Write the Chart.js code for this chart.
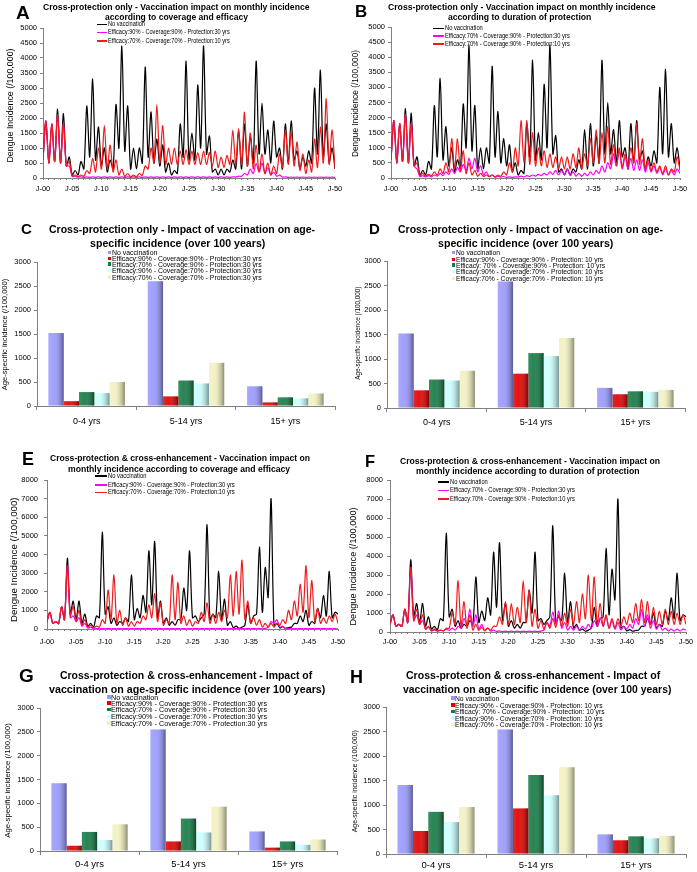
<!DOCTYPE html>
<html>
<head>
<meta charset="utf-8">
<script src="https://cdn.jsdelivr.net/npm/chart.js@4.4.1/dist/chart.umd.min.js"></script>
<style>
  body { margin: 0; background: #fff; }
  #page { position: relative; width: 697px; height: 872px; overflow: hidden; font-family: "Liberation Sans", Arial, sans-serif; color: #000; }
  #page canvas { position: absolute; }
  .txt { position: absolute; white-space: nowrap; transform-origin: 0 50%; }
  .sw { position: absolute; }
</style>
</head>
<body>
<div id="page"></div>
<script>
// monthly incidence, one value every half year from J-00 to J-50 (trough, peak, trough, ...)
const noVaccCP = [
  600,1900, 500,1800, 550,2300, 500,2150, 400,700,
  100,250, 100,550, 300,2400, 700,3300, 600,1700,
  400,1000, 200,600, 300,2450, 1000,4400, 900,2400,
  300,1000, 300,1000, 500,3700, 700,2200, 500,1300,
  400,1100, 200,500, 100,250, 150,1800, 700,3900,
  600,1500, 600,3100, 1000,4400, 800,1400, 200,300,
  100,300, 100,300, 200,600, 300,1600, 300,1800,
  400,1400, 500,3900, 800,2500, 800,1600, 500,1900,
  700,1000, 300,1800, 500,1900, 600,900, 300,700,
  400,900, 500,3000, 800,3600, 700,1800, 500,1000,
  300
];
const a90c90p30 = [
  600,1900, 500,1800, 550,2100, 500,1800, 400,400,
  50,60, 30,40, 20,40, 20,40, 20,40,
  20,40, 20,40, 20,40, 20,40, 20,40,
  20,40, 20,40, 20,40, 20,40, 20,40,
  20,40, 20,40, 20,40, 20,40, 20,40,
  20,40, 20,40, 20,40, 20,40, 20,40,
  20,40, 20,40, 20,40, 30,60, 60,150,
  100,300, 150,480, 200,500, 150,350, 100,200,
  60,100, 30,40, 20,30, 20,30, 20,30,
  20,30, 20,30, 20,30, 20,30, 20,30,
  20
];
const a70c70p10 = [
  600,1900, 500,1800, 550,2100, 500,1800, 400,550,
  60,100, 40,100, 60,250, 150,650, 200,1000,
  300,1750, 300,1100, 200,600, 100,300, 50,150,
  40,100, 40,150, 80,400, 300,1000, 500,2450,
  500,1750, 450,1000, 450,1000, 450,900, 450,950,
  450,900, 450,850, 450,900, 450,850, 400,900,
  350,700, 350,750, 450,1600, 450,1650, 450,2200,
  400,1500, 300,1100, 200,800, 150,500, 100,400,
  150,800, 350,1600, 450,1550, 400,1200, 250,800,
  150,600, 200,1300, 350,1700, 500,2650, 450,1600,
  300
];
const b70c90p30 = [
  600,1900, 500,1800, 550,2100, 500,1800, 400,300,
  50,80, 40,80, 40,100, 60,150, 80,200,
  120,300, 150,350, 200,450, 250,650, 300,650,
  200,400, 100,200, 50,100, 30,60, 30,50,
  20,40, 20,40, 30,60, 40,80, 50,100,
  60,120, 80,150, 100,200, 120,250, 100,250,
  120,300, 80,200, 60,150, 60,150, 80,200,
  100,250, 150,400, 200,500, 300,800, 400,900,
  300,700, 300,650, 250,600, 250,600, 200,500,
  200,400, 150,350, 100,300, 100,250, 100,300,
  150
];
const b70c90p10 = [
  600,1900, 500,1800, 550,2100, 500,1800, 400,500,
  80,150, 60,120, 80,200, 100,300, 150,500,
  200,1300, 300,1300, 250,900, 150,500, 100,250,
  60,150, 50,100, 40,100, 40,100, 60,200,
  100,500, 200,1000, 400,1900, 500,1900, 450,1500,
  400,1000, 400,900, 350,800, 350,700, 300,700,
  300,700, 300,800, 350,1000, 300,800, 400,1300,
  500,1600, 500,1500, 500,1700, 450,1100, 400,1000,
  350,800, 400,1000, 500,1800, 450,1300, 300,600,
  250,500, 200,400, 150,400, 100,300, 200,700,
  250
];
const noVaccCE = [
  400,900, 300,400, 300,1200, 500,3800, 800,1500,
  500,1500, 300,800, 150,300, 100,700, 600,5200,
  800,1200, 300,600, 200,400, 300,600, 400,2900,
  500,1100, 600,1800, 900,4200, 1300,4700, 600,1500,
  300,600, 200,400, 200,500, 500,2200, 1000,4200,
  600,700, 400,600, 800,5600, 500,800, 600,3100,
  500,1600, 200,400, 80,150, 40,100, 200,1300,
  300,700, 800,4400, 900,3300, 1700,7000, 200,300,
  60,120, 40,80, 100,300, 300,700, 400,1000,
  200,400, 300,1100, 600,1800, 700,3100, 600,900,
  800
];
const e90c90p30 = [
  400,900, 300,400, 300,1200, 500,3400, 600,700,
  400,600, 150,300, 50,100, 10,20, 10,20,
  10,20, 10,20, 10,20, 10,20, 10,20,
  10,20, 10,20, 10,20, 10,20, 10,20,
  10,20, 10,20, 10,20, 10,20, 10,20,
  10,20, 10,20, 10,20, 10,20, 10,20,
  10,20, 10,20, 10,20, 10,20, 10,20,
  10,20, 10,20, 10,30, 100,400, 300,500,
  100,150, 10,20, 10,20, 10,20, 10,20,
  10,20, 10,20, 10,20, 10,20, 10,20,
  10
];
const e70c70p10 = [
  400,900, 300,400, 300,1200, 500,3400, 700,1200,
  400,1000, 200,500, 100,200, 50,150, 100,500,
  300,2100, 500,2900, 300,1000, 200,600, 150,400,
  150,400, 300,700, 500,1300, 600,1900, 400,1400,
  200,500, 300,2900, 500,2500, 300,700, 200,500,
  150,400, 300,900, 400,1400, 300,800, 300,900,
  400,1000, 600,2900, 700,3100, 800,3700, 500,1500,
  300,600, 200,500, 100,300, 100,300, 100,300,
  200,500, 300,1000, 500,1500, 700,2400, 900,3400,
  600,2600, 400,1100, 300,600, 300,700, 400,800,
  300
];
const f70c90p30 = [
  400,900, 300,400, 300,1200, 500,3400, 600,900,
  400,600, 150,250, 60,100, 50,100, 60,150,
  80,200, 100,300, 200,700, 400,1200, 300,900,
  150,400, 80,200, 50,100, 30,60, 20,50,
  20,50, 20,50, 20,50, 20,50, 20,50,
  20,50, 100,500, 300,1050, 400,1100, 200,500,
  100,300, 100,300, 100,300, 150,400, 200,600,
  300,750, 300,800, 200,600, 150,500, 100,300,
  150,400, 200,700, 400,1200, 300,900, 200,600,
  150,400, 100,200, 60,150, 50,150, 50,150,
  100
];
const f70c90p10 = [
  400,900, 300,400, 300,1200, 500,3400, 600,1200,
  400,900, 150,300, 60,150, 40,100, 60,200,
  200,1000, 400,2700, 300,1600, 200,900, 100,400,
  80,250, 60,200, 100,300, 300,800, 400,1600,
  400,1500, 400,1300, 500,2700, 500,2200, 300,1200,
  200,600, 150,500, 200,700, 250,900, 300,1000,
  300,1200, 400,1600, 500,2000, 700,3000, 600,2900,
  400,1500, 300,900, 200,700, 200,700, 300,800,
  400,1000, 500,1500, 600,1700, 500,1600, 400,1300,
  400,1100, 400,1200, 400,1100, 400,1000, 400,900,
  400
];

// age-specific incidence over 100 years
const ageGroups = ['0-4 yrs', '5-14 yrs', '15+ yrs'];
const cNoVacc = [1520, 2600, 410];
const cE90C90 = [100, 200, 75];
const cE70C90 = [290, 530, 180];
const cE90C70 = [270, 470, 160];
const cE70C70 = [500, 900, 260];
const dNoVacc = [1520, 2580, 410];
const dE90C90 = [360, 700, 280];
const dE70C90 = [580, 1120, 340];
const dE90C70 = [560, 1060, 330];
const dE70C70 = [760, 1430, 370];
const gNoVacc = [1420, 2550, 410];
const gE90C90 = [110, 200, 70];
const gE70C90 = [400, 680, 200];
const gE90C70 = [230, 390, 130];
const gE70C70 = [560, 930, 240];
const hNoVacc = [1410, 2540, 400];
const hE90C90 = [470, 930, 280];
const hE70C90 = [860, 1610, 360];
const hE90C70 = [650, 1200, 320];
const hE70C70 = [960, 1770, 370];

const lineColors = ['#000000', '#FF00FF', '#EE1C1C'];
const barColors = ['#9999FF', '#E00000', '#157A45', '#CCFFFF', '#F2F0C0'];

const FONT = '"Liberation Sans", Arial, sans-serif';
Chart.defaults.font.family = FONT;
Chart.defaults.color = '#000';

const page = document.getElementById('page');

function addText(s, x, y, size, bold) {
  const d = document.createElement('div');
  d.className = 'txt';
  d.textContent = s;
  d.style.fontSize = size + 'px';
  d.style.lineHeight = size + 'px';
  d.style.left = x + 'px';
  d.style.top = (y - size / 2) + 'px';
  if (bold) d.style.fontWeight = 'bold';
  page.appendChild(d);
  return d;
}

function fitText(s, x0, x1, y, size, bold) {
  const d = addText(s, x0, y, size, bold);
  d.style.transform = 'scaleX(' + ((x1 - x0) / d.offsetWidth) + ')';
}

function vText(s, cx, cy, len, size) {
  const d = addText(s, 0, cy, size, false);
  const w = d.offsetWidth;
  d.style.left = (cx - w / 2) + 'px';
  d.style.transformOrigin = '50% 50%';
  d.style.transform = 'rotate(-90deg) scaleX(' + (len / w) + ')';
}

function legend(kind, x0, xText, ys, names, colors, textEnd, size) {
  const els = names.map((n, i) => {
    const s = document.createElement('div');
    s.className = 'sw';
    s.style.background = colors[i];
    if (kind === 'line') {
      s.style.left = x0 + 'px';
      s.style.width = (xText - x0 - 1) + 'px';
      s.style.top = (ys[i] - 0.75) + 'px';
      s.style.height = '1.5px';
    } else {
      s.style.left = x0 + 'px';
      s.style.width = '3.5px';
      s.style.top = (ys[i] - 1.75) + 'px';
      s.style.height = '3.5px';
    }
    page.appendChild(s);
    return addText(n, xText, ys[i], size, false);
  });
  const maxW = Math.max(...els.map(e => e.offsetWidth));
  const k = (textEnd - xText) / maxW;
  els.forEach(e => { e.style.transform = 'scaleX(' + k + ')'; });
}

function makeCanvas(r) {
  const c = document.createElement('canvas');
  c.width = r.w; c.height = r.h;
  c.style.left = r.x + 'px'; c.style.top = r.y + 'px';
  c.style.width = r.w + 'px'; c.style.height = r.h + 'px';
  page.appendChild(c);
  return c;
}

function axes(r, p, o) {
  const yW = p.l - r.x, xH = r.y + r.h - p.b;
  return {
    layout: { padding: { left: 0, top: p.t - r.y, right: r.x + r.w - p.r, bottom: 0 } },
    x: {
      grid: { drawOnChartArea: false, tickLength: o.xTick, color: '#808080' },
      border: { color: '#808080' },
      ticks: { padding: o.xPad, font: { size: o.xFont }, maxRotation: 0, autoSkip: false },
      afterFit: s => { s.height = xH; s.paddingLeft = 0; s.paddingRight = 0; }
    },
    y: {
      min: 0, max: o.yMax,
      grid: { drawOnChartArea: false, tickLength: 3, color: '#808080' },
      border: { color: '#808080' },
      ticks: { stepSize: o.yStep, padding: o.yPad, font: { size: o.yFont }, callback: v => String(v) },
      afterFit: s => { s.width = yW; s.paddingTop = 0; s.paddingBottom = 0; }
    }
  };
}

function lineChart(r, p, o, series) {
  const ax = axes(r, p, o);
  ax.x.type = 'linear';
  ax.x.min = 0; ax.x.max = 50;
  ax.x.ticks.stepSize = 1;
  ax.x.ticks.callback = v => (v % 5 === 0 ? 'J-' + String(v).padStart(2, '0') : '');
  new Chart(makeCanvas(r), {
    type: 'line',
    data: {
      datasets: series.map((vals, i) => ({
        data: vals.map((v, j) => ({ x: j / 2, y: v })),
        borderColor: lineColors[i],
        borderWidth: 1.2,
        order: 2 - i
      }))
    },
    options: {
      responsive: false, animation: false, devicePixelRatio: 1,
      layout: ax.layout,
      elements: { point: { radius: 0 }, line: { tension: 0.3, borderJoinStyle: 'round' } },
      plugins: { legend: { display: false }, tooltip: { enabled: false } },
      scales: { x: ax.x, y: ax.y }
    }
  });
}

const shade = {
  id: 'shade',
  afterDatasetsDraw(chart) {
    const ctx = chart.ctx;
    chart.data.datasets.forEach((ds, i) => {
      chart.getDatasetMeta(i).data.forEach(bar => {
        const b = bar.getProps(['x', 'y', 'base', 'width'], true);
        const l = b.x - b.width / 2;
        const g = ctx.createLinearGradient(l, 0, l + b.width, 0);
        g.addColorStop(0, 'rgba(255,255,255,0.15)');
        g.addColorStop(0.35, 'rgba(255,255,255,0.08)');
        g.addColorStop(1, 'rgba(0,0,0,0.42)');
        ctx.fillStyle = g;
        ctx.fillRect(l, b.y, b.width, b.base - b.y);
      });
    });
  }
};

function barChart(r, p, o, series) {
  const ax = axes(r, p, o);
  new Chart(makeCanvas(r), {
    type: 'bar',
    data: {
      labels: ageGroups,
      datasets: series.map((vals, i) => ({ data: vals, backgroundColor: barColors[i] }))
    },
    options: {
      responsive: false, animation: false, devicePixelRatio: 1,
      layout: ax.layout,
      categoryPercentage: 0.77, barPercentage: 1.0,
      plugins: { legend: { display: false }, tooltip: { enabled: false } },
      scales: { x: ax.x, y: ax.y }
    },
    plugins: [shade]
  });
}

const lineOpts = { yMax: 5000, yStep: 500, xTick: 2, xPad: 4, xFont: 7.5, yPad: 3, yFont: 7.5 };
const ceOpts = { yMax: 8000, yStep: 1000, xTick: 2, xPad: 5, xFont: 7.5, yPad: 4, yFont: 7.5 };
const barOpts = { yMax: 3000, yStep: 500, xTick: 4, xPad: 6, xFont: 9, yPad: 3, yFont: 7.5 };

lineChart({ x: 0, y: 0, w: 348, h: 200 }, { l: 43, t: 28, r: 335, b: 178 }, lineOpts,
  [noVaccCP, a90c90p30, a70c70p10]);
lineChart({ x: 348, y: 0, w: 349, h: 200 }, { l: 391, t: 27, r: 680, b: 178 }, lineOpts,
  [noVaccCP, b70c90p30, b70c90p10]);
barChart({ x: 0, y: 200, w: 348, h: 230 }, { l: 37, t: 262, r: 335, b: 406 }, barOpts,
  [cNoVacc, cE90C90, cE70C90, cE90C70, cE70C70]);
barChart({ x: 348, y: 200, w: 349, h: 230 }, { l: 387, t: 261, r: 685, b: 408 }, Object.assign({}, barOpts, { xPad: 5 }),
  [dNoVacc, dE90C90, dE70C90, dE90C70, dE70C70]);
lineChart({ x: 0, y: 430, w: 348, h: 220 }, { l: 47, t: 480, r: 338, b: 629 }, Object.assign({}, ceOpts, { xPad: 6, yPad: 6 }),
  [noVaccCE, e90c90p30, e70c70p10]);
lineChart({ x: 348, y: 430, w: 349, h: 220 }, { l: 390, t: 480, r: 686, b: 632 }, Object.assign({}, ceOpts, { xPad: 3 }),
  [noVaccCE, f70c90p30, f70c90p10]);
barChart({ x: 0, y: 650, w: 348, h: 222 }, { l: 40, t: 708, r: 337, b: 851 }, Object.assign({}, barOpts, { xFont: 9.5, xPad: 4 }),
  [gNoVacc, gE90C90, gE70C90, gE90C70, gE70C70]);
barChart({ x: 348, y: 650, w: 349, h: 222 }, { l: 386, t: 707, r: 686, b: 854 }, Object.assign({}, barOpts, { xFont: 9.5, xPad: 2 }),
  [hNoVacc, hE90C90, hE70C90, hE90C70, hE70C70]);

// panel letters
addText('A', 16, 12, 19, true);
addText('B', 355, 11, 17, true);
addText('C', 21, 228, 15, true);
addText('D', 369, 228.5, 15, true);
addText('E', 22, 458.5, 18, true);
addText('F', 365, 461, 16.5, true);
addText('G', 19, 675, 19, true);
addText('H', 350, 676.5, 18, true);

// titles
fitText('Cross-protection only - Vaccination impact on monthly incidence', 43, 310, 7, 9.5, true);
fitText('according to coverage and efficacy', 105, 248, 17, 9.5, true);
fitText('Cross-protection only - Vaccination impact on monthly incidence', 388, 656, 7, 9.5, true);
fitText('according to duration of protection', 448, 591, 17, 9.5, true);
fitText('Cross-protection only - Impact of vaccination on age-', 49, 315, 229, 10.5, true);
fitText('specific incidence (over 100 years)', 90, 265, 243, 10.5, true);
fitText('Cross-protection only - Impact of vaccination on age-', 398, 663, 229, 10.5, true);
fitText('specific incidence (over 100 years)', 438, 613, 243, 10.5, true);
fitText('Cross-protection & cross-enhancement - Vaccination impact on', 50, 310, 458, 9, true);
fitText('monthly incidence according to coverage and efficacy', 68, 290, 469, 9, true);
fitText('Cross-protection & cross-enhancement - Vaccination impact on', 400, 660, 461, 9, true);
fitText('monthly incidence according to duration of protection', 416, 640, 471, 9, true);
fitText('Cross-protection & cross-enhancement - Impact of', 60, 312, 675, 10.5, true);
fitText('vaccination on age-specific incidence (over 100 years)', 49, 325, 689, 10.5, true);
fitText('Cross-protection & cross-enhancement - Impact of', 406, 660, 675, 10.5, true);
fitText('vaccination on age-specific incidence (over 100 years)', 403, 671, 689, 10.5, true);

// axis titles
vText('Dengue Incidence (/100,000)', 10, 105, 114, 9);
vText('Dengue Incidence (/100,000)', 355, 103, 107, 9);
vText('Age-specific incidence (/100,000)', 5, 334, 112, 7);
vText('Age-specific incidence (/100,000)', 358, 333, 93, 6.5);
vText('Dengue Incidence (/100,000)', 13, 560, 125, 9.5);
vText('Dengue Incidence (/100,000)', 353, 566, 118, 9);
vText('Age-specific incidence (/100,000)', 8, 780, 115, 7);
vText('Age-specific incidence (/100,000)', 355, 781, 102, 6.5);

// legends
const namesA = ['No vaccination', 'Efficacy:90% - Coverage:90% - Protection:30 yrs', 'Efficacy:70% - Coverage:70% - Protection:10 yrs'];
const namesB = ['No vaccination', 'Efficacy:70% - Coverage:90% - Protection:30 yrs', 'Efficacy:70% - Coverage:90% - Protection:10 yrs'];
const namesC = ['No vaccination', 'Efficacy:90% - Coverage:90% - Protection:30 yrs', 'Efficacy:70% - Coverage:90% - Protection:30 yrs',
  'Efficacy:90% - Coverage:70% - Protection:30 yrs', 'Efficacy:70% - Coverage:70% - Protection:30 yrs'];
const namesD = ['No vaccination', 'Efficacy:90% - Coverage:90% - Protection: 10 yrs', 'Efficacy: 70% - Coverage:90% - Protection: 10 yrs',
  'Efficacy:90% - Coverage:70% - Protection: 10 yrs', 'Efficacy:70% - Coverage:70% - Protection: 10 yrs'];

legend('line', 97, 108, [24.3, 32.7, 41], namesA, lineColors, 230, 6.5);
legend('line', 433, 445, [28.3, 36, 44], namesB, lineColors, 570, 6.5);
legend('bar', 107.5, 112, [252.3, 258.3, 264.2, 270.5, 277], namesC, barColors, 262, 7);
legend('bar', 451.5, 455.5, [252.7, 259.3, 265.2, 271.7, 278.3], namesD, barColors, 605, 7);
legend('line', 95, 108, [476, 485, 492.7], namesA, lineColors, 235, 6.5);
legend('line', 438, 450, [482, 490.7, 499], namesB, lineColors, 575, 6.5);
legend('bar', 107, 110.5, [697, 703, 709.5, 716.5, 723], namesC, barColors, 267, 7);
legend('bar', 451, 455, [698, 705, 711.5, 718, 724.5], namesD, barColors, 605, 7);
</script>
</body>
</html>
